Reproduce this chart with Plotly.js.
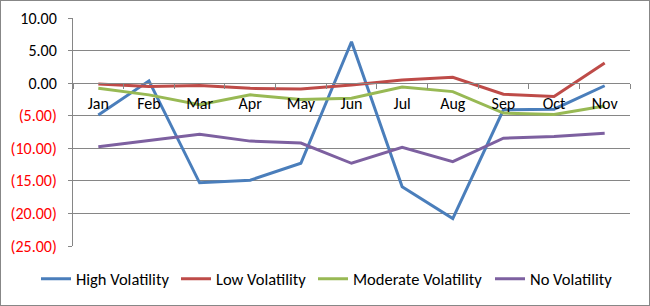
<!DOCTYPE html>
<html><head><meta charset="utf-8">
<script src="https://cdn.plot.ly/plotly-3.0.1.min.js"></script>
<style>
body{margin:0;padding:0;background:#fff;}
#wrap{position:relative;width:650px;height:306px;}
#chart{position:absolute;left:0;top:0;width:650px;height:306px;}
#border{position:absolute;left:0;top:0;width:648px;height:304px;border:1px solid #878787;pointer-events:none;}
</style></head>
<body><div id="wrap"><div id="chart"></div><div id="border"></div></div>
<script>
const months = ['Jan','Feb','Mar','Apr','May','Jun','Jul','Aug','Sep','Oct','Nov'];
const highVol = [-4.9, 0.35, -15.3, -14.9, -12.3, 6.35, -15.9, -20.8, -4.1, -4.0, -0.4];
const lowVol = [-0.15, -0.5, -0.35, -0.8, -0.9, -0.3, 0.5, 0.9, -1.7, -2.05, 3.1];
const modVol = [-0.8, -1.8, -3.3, -1.8, -2.5, -2.3, -0.6, -1.3, -4.6, -4.8, -3.5];
const noVol = [-9.75, -8.8, -7.85, -8.9, -9.2, -12.3, -9.85, -12.05, -8.45, -8.2, -7.7];
const yTickVals = [10, 5, 0, -5, -10, -15, -20, -25];
const seriesNames = ['High Volatility','Low Volatility','Moderate Volatility','No Volatility'];
const colors = ['#4A7EBB','#BE4B48','#98B954','#7D60A0'];

function fmt(v){
  const s = Math.abs(v).toFixed(2);
  return v < 0 ? '<span style="color:#FF0000">(' + s + ')</span>' : s;
}
const yTickText = yTickVals.map(fmt);

const legendIds = ['legend','legend2','legend3','legend4'];
const data = [highVol, lowVol, modVol, noVol].map((ys, i) => ({
  x: months, y: ys, type: 'scatter', mode: 'lines', name: seriesNames[i],
  line: {color: colors[i], width: 3}, legend: legendIds[i]
}));

const font = "Carlito, Lato, Liberation Sans, sans-serif";
const legendStarts = [42, 182, 319, 496];
const layout = {
  width: 650, height: 306,
  margin: {l: 73, r: 20, t: 18, b: 60, autoexpand: false},
  paper_bgcolor: '#fff', plot_bgcolor: '#fff',
  font: {family: font, size: 16, color: '#000'},
  showlegend: true,
  xaxis: {
    type: 'category', anchor: 'free', position: 25/35,
    showline: true, linecolor: '#868686', linewidth: 1,
    ticks: 'outside', ticklen: 5, tickcolor: '#868686', tickson: 'boundaries',
    showgrid: false, zeroline: false, fixedrange: true,
    range: [-0.5, 10.5], ticklabelstandoff: 6,
    tickfont: {family: font, size: 16, color: '#000'}
  },
  yaxis: {
    range: [-25, 10], tickvals: yTickVals, ticktext: yTickText,
    showgrid: true, gridcolor: '#868686', gridwidth: 1,
    showline: true, linecolor: '#868686', linewidth: 1,
    ticks: 'outside', ticklen: 4, tickcolor: '#868686',
    zeroline: false, ticklabelstandoff: 8,
    tickfont: {family: font, size: 16, color: '#000'}
  }
};
legendIds.forEach((id, i) => {
  layout[id] = {orientation: 'h', xref: 'container', yref: 'container',
    x: (legendStarts[i] - 6) / 650, xanchor: 'left', y: 1 - 279/306, yanchor: 'middle',
    bgcolor: 'rgba(0,0,0,0)', font: {family: font, size: 16.5}};
});
Plotly.newPlot('chart', data, layout, {displayModeBar: false, staticPlot: true});
</script></body></html>
